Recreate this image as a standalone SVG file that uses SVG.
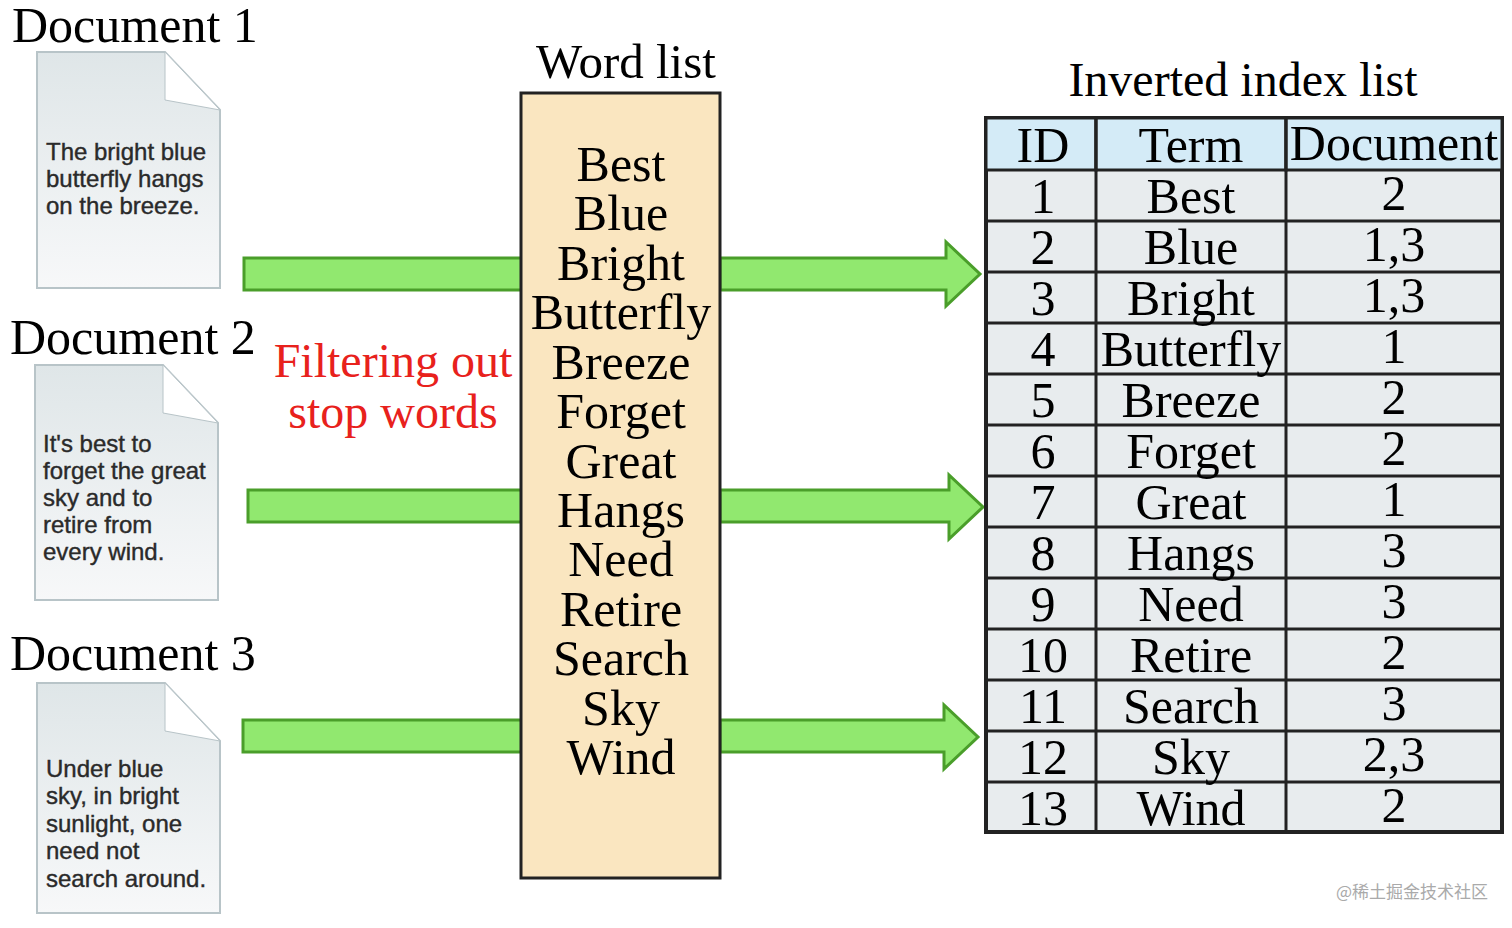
<svg xmlns="http://www.w3.org/2000/svg" width="1512" height="928" viewBox="0 0 1512 928">
<style>
.t{font-family:"Liberation Serif",serif;fill:#000}
.d{font-family:"Liberation Sans",Arial,sans-serif;font-size:24px;fill:#2a2a2a;stroke:#2a2a2a;stroke-width:0.4}
.cell{fill:#e8ecee;stroke:#222;stroke-width:3}
.hd{fill:#d4ebf7;stroke:#222;stroke-width:3}
.ar{fill:#91e86f;stroke:#4a9e2a;stroke-width:3}
.doc{fill:url(#pg);stroke:#b8c4c8;stroke-width:2}
</style>
<defs>
<linearGradient id="pg" x1="0" y1="0" x2="0" y2="1"><stop offset="0" stop-color="#dfe6e8"/><stop offset="1" stop-color="#f7f8f9"/></linearGradient>
</defs>
<rect width="1512" height="928" fill="#fff"/>
<g id="doc1">
<text class="t" x="12" y="42" font-size="50">Document 1</text>
<path class="doc" d="M37 52 H165 L220 110 V288 H37 Z"/><path d="M165 52 L165 100 L220 110 Z" fill="#fff" stroke="#b8c4c8"/>
<text class="d" x="46" y="160">The bright blue</text><text class="d" x="46" y="187">butterfly hangs</text><text class="d" x="46" y="214">on the breeze.</text>
</g>
<g id="doc2">
<text class="t" x="10" y="354" font-size="50">Document 2</text>
<path class="doc" d="M35 365 H163 L218 423 V600 H35 Z"/><path d="M163 365 L163 413 L218 423 Z" fill="#fff" stroke="#b8c4c8"/>
<text class="d" x="43" y="452">It's best to</text><text class="d" x="43" y="479">forget the great</text><text class="d" x="43" y="506">sky and to</text><text class="d" x="43" y="533">retire from</text><text class="d" x="43" y="560">every wind.</text>
</g>
<g id="doc3">
<text class="t" x="10" y="670" font-size="50">Document 3</text>
<path class="doc" d="M37 683 H165 L220 741 V913 H37 Z"/><path d="M165 683 L165 731 L220 741 Z" fill="#fff" stroke="#b8c4c8"/>
<text class="d" x="46" y="777">Under blue</text><text class="d" x="46" y="804">sky, in bright</text><text class="d" x="46" y="832">sunlight, one</text><text class="d" x="46" y="859">need not</text><text class="d" x="46" y="887">search around.</text>
</g>
<text class="t" x="393" y="377" font-size="48" style="fill:#e8211c" text-anchor="middle">Filtering out</text>
<text class="t" x="393" y="428" font-size="48" style="fill:#e8211c" text-anchor="middle">stop words</text>
<g id="connectors">
<rect class="ar" x="244" y="258" width="278" height="32"/>
<rect class="ar" x="248" y="490" width="274" height="32"/>
<rect class="ar" x="243" y="720" width="279" height="32"/>
<path class="ar" d="M720 258 H946 V242 L980 274 L946 306 V290 H720 Z"/>
<path class="ar" d="M720 490 H949 V475 L983 507 L949 539 V522 H720 Z"/>
<path class="ar" d="M720 720 H944 V705 L978 737 L944 769 V752 H720 Z"/>
</g>
<g id="wordlist">
<text class="t" x="626" y="78" font-size="49" text-anchor="middle">Word list</text>
<rect x="521" y="93" width="199" height="785" fill="#fae6c0" stroke="#222" stroke-width="3"/>
<g class="t" font-size="50" text-anchor="middle">
<text x="621" y="181">Best</text><text x="621" y="230">Blue</text><text x="621" y="280">Bright</text><text x="621" y="329">Butterfly</text><text x="621" y="379">Breeze</text><text x="621" y="428">Forget</text><text x="621" y="478">Great</text><text x="621" y="527">Hangs</text><text x="621" y="576">Need</text><text x="621" y="626">Retire</text><text x="621" y="675">Search</text><text x="621" y="725">Sky</text><text x="621" y="774">Wind</text>
</g>
</g>
<g id="table">
<text class="t" x="1243" y="96" font-size="48" text-anchor="middle">Inverted index list</text>
<rect x="986" y="118" width="516" height="714" fill="#e8ecee" stroke="#222" stroke-width="4"/>
<rect class="hd" x="986" y="118" width="110" height="52"/><rect class="hd" x="1096" y="118" width="190" height="52"/><rect class="hd" x="1286" y="118" width="216" height="52"/>
<g stroke="#222" stroke-width="3">
<line x1="1096" y1="118" x2="1096" y2="832"/><line x1="1286" y1="118" x2="1286" y2="832"/>
<line x1="986" y1="221" x2="1502" y2="221"/><line x1="986" y1="272" x2="1502" y2="272"/><line x1="986" y1="323" x2="1502" y2="323"/><line x1="986" y1="374" x2="1502" y2="374"/><line x1="986" y1="425" x2="1502" y2="425"/><line x1="986" y1="476" x2="1502" y2="476"/><line x1="986" y1="527" x2="1502" y2="527"/><line x1="986" y1="578" x2="1502" y2="578"/><line x1="986" y1="629" x2="1502" y2="629"/><line x1="986" y1="680" x2="1502" y2="680"/><line x1="986" y1="731" x2="1502" y2="731"/><line x1="986" y1="782" x2="1502" y2="782"/>
</g>
<g class="t" font-size="50" text-anchor="middle">
<text x="1043" y="162">ID</text><text x="1191" y="162">Term</text><text x="1394" y="160">Document</text>
<text x="1043" y="213">1</text><text x="1191" y="213">Best</text><text x="1394" y="210">2</text>
<text x="1043" y="264">2</text><text x="1191" y="264">Blue</text><text x="1394" y="261">1,3</text>
<text x="1043" y="315">3</text><text x="1191" y="315">Bright</text><text x="1394" y="312">1,3</text>
<text x="1043" y="366">4</text><text x="1191" y="366">Butterfly</text><text x="1394" y="363">1</text>
<text x="1043" y="417">5</text><text x="1191" y="417">Breeze</text><text x="1394" y="414">2</text>
<text x="1043" y="468">6</text><text x="1191" y="468">Forget</text><text x="1394" y="465">2</text>
<text x="1043" y="519">7</text><text x="1191" y="519">Great</text><text x="1394" y="516">1</text>
<text x="1043" y="570">8</text><text x="1191" y="570">Hangs</text><text x="1394" y="567">3</text>
<text x="1043" y="621">9</text><text x="1191" y="621">Need</text><text x="1394" y="618">3</text>
<text x="1043" y="672">10</text><text x="1191" y="672">Retire</text><text x="1394" y="669">2</text>
<text x="1043" y="723">11</text><text x="1191" y="723">Search</text><text x="1394" y="720">3</text>
<text x="1043" y="774">12</text><text x="1191" y="774">Sky</text><text x="1394" y="771">2,3</text>
<text x="1043" y="825">13</text><text x="1191" y="825">Wind</text><text x="1394" y="822">2</text>
</g>
</g>
<text x="1488" y="898" font-family="'Noto Sans CJK SC',sans-serif" font-size="17" fill="#aaa" text-anchor="end">@稀土掘金技术社区</text>
</svg>
